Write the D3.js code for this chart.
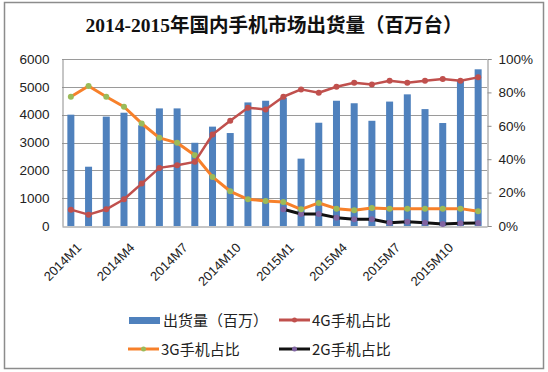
<!DOCTYPE html>
<html><head><meta charset="utf-8">
<script src="https://cdn.jsdelivr.net/npm/d3@7"></script>
<style>body{margin:0;background:#fff}svg{display:block}</style>
</head><body><svg id="c" width="548" height="372"></svg>
<script>
const months = ["2014M1","2014M2","2014M3","2014M4","2014M5","2014M6","2014M7","2014M8","2014M9","2014M10","2014M11","2014M12",
"2015M1","2015M2","2015M3","2015M4","2015M5","2015M6","2015M7","2015M8","2015M9","2015M10","2015M11","2015M12"];
const shipments = [4000,2130,3930,4070,3620,4225,4225,2990,3570,3340,4440,4500,4610,2420,3710,4500,4410,3780,4470,4730,4200,3700,5240,5630];
const share4G = [9.8,6.8,10,16,25.4,34.8,36.4,38.4,54.8,63,70.8,69.8,77.4,81.8,79.8,83.4,85.8,84.8,87,85.8,87,88,87,89];
const share3G = [77.4,83.8,77.4,71.4,61.4,52.8,49.8,42.4,29.4,20.8,16,15,14.4,10,13.8,10.4,9.4,10.8,10.4,10.4,10.4,10.4,10.4,8.8];
const share2G = [null,null,null,null,null,null,null,null,null,null,null,null,10,7.2,7.2,5,4,4,2,2.6,2,1.2,1.6,1.8];
const leftTicks = [0,1000,2000,3000,4000,5000,6000];
const rightTicks = [0,20,40,60,80,100];
const xLabelMonths = ["2014M1","2014M4","2014M7","2014M10","2015M1","2015M4","2015M7","2015M10"];

const svg = d3.select("#c");
const L = 62, R = 487, T = 59, B = 226;
const font = "'Liberation Sans','DejaVu Sans',sans-serif";
const cjk = "'Noto Sans CJK SC','Liberation Sans',sans-serif";

svg.append("rect").attr("x",4.5).attr("y",2.5).attr("width",539).attr("height",366)
  .attr("fill","#fff").attr("stroke","#8c8c8c").attr("stroke-width",1.5);

svg.append("text").attr("x",274).attr("y",32).attr("text-anchor","middle")
  .attr("font-family","'Liberation Serif','Noto Sans CJK SC',serif").attr("font-weight","bold")
  .attr("font-size",19.5).attr("fill","#111").text("2014-2015年国内手机市场出货量（百万台）");

const xc = d3.scalePoint().domain(months).range([L,R]).padding(0.5);
const y = d3.scaleLinear().domain([0,6000]).range([B,T]);
const y2 = d3.scaleLinear().domain([0,100]).range([B,T]);

// gridlines
svg.append("g").selectAll("line").data(leftTicks.filter(d=>d>0)).join("line")
  .attr("x1",L).attr("x2",R).attr("y1",d=>Math.round(y(d))+0.5).attr("y2",d=>Math.round(y(d))+0.5)
  .attr("stroke","#9a9a9a").attr("stroke-width",1);

// left axis
const ga = svg.append("g").attr("transform",`translate(${L+0.5},0)`)
  .call(d3.axisLeft(y).tickValues(leftTicks).tickFormat(d3.format("d")).tickSize(0).tickPadding(13));
ga.select(".domain").attr("stroke","#8c8c8c");
ga.selectAll("text").attr("font-family",font).attr("font-size",13.5).attr("fill","#222");

// right axis
const gr = svg.append("g").attr("transform",`translate(${R+0.5},0)`)
  .call(d3.axisRight(y2).tickValues(rightTicks).tickFormat(d=>d+"%").tickSize(4).tickPadding(7));
gr.select(".domain").attr("stroke","#8c8c8c");
gr.selectAll("line").attr("stroke","#8c8c8c");
gr.selectAll("text").attr("font-family",font).attr("font-size",13.5).attr("fill","#222");

// bars
svg.append("g").selectAll("rect").data(shipments).join("rect")
  .attr("x",(d,i)=>xc(months[i])-3.5).attr("width",7)
  .attr("y",d=>y(d)).attr("height",d=>B-y(d)).attr("fill","#4f81bd");

// bottom axis
const gb = svg.append("g").attr("transform",`translate(0,${B+0.5})`)
  .call(d3.axisBottom(xc).tickValues(xLabelMonths).tickSize(0).tickPadding(0));
gb.select(".domain").attr("stroke","#8c8c8c");
gb.selectAll("text").attr("font-family",font).attr("font-size",13).attr("fill","#222")
  .attr("text-anchor","end").attr("dy",0)
  .attr("transform","translate(11,22) rotate(-45)");

function series(data, lineColor, markColor, w){
  const pts = data.map((v,i)=>({v,m:months[i]})).filter(p=>p.v!==null);
  svg.append("path").datum(pts)
    .attr("d",d3.line().x(p=>xc(p.m)).y(p=>y2(p.v)))
    .attr("fill","none").attr("stroke",lineColor).attr("stroke-width",w).attr("stroke-linejoin","round");
  svg.append("g").selectAll("circle").data(pts).join("circle")
    .attr("cx",p=>xc(p.m)).attr("cy",p=>y2(p.v)).attr("r",3).attr("fill",markColor);
}
series(share2G,"#111","#8064a2",3);
series(share3G,"#f7802a","#9bbb59",3);
series(share4G,"#c0504d","#c0504d",2.5);

// legend
const lg = svg.append("g").attr("font-family",cjk).attr("font-size",15).attr("fill","#222");
lg.append("rect").attr("x",129).attr("y",317).attr("width",31).attr("height",7).attr("fill","#4f81bd");
lg.append("text").attr("x",163).attr("y",326).text("出货量（百万）");
function legLine(x0,yy,c,mc,label){
  lg.append("line").attr("x1",x0).attr("x2",x0+31).attr("y1",yy).attr("y2",yy).attr("stroke",c).attr("stroke-width",3);
  lg.append("circle").attr("cx",x0+15.5).attr("cy",yy).attr("r",2.5).attr("fill",mc);
  lg.append("text").attr("x",x0+33).attr("y",yy+5.5).text(label);
}
legLine(279,320,"#c0504d","#c0504d","4G手机占比");
legLine(128,349,"#f7802a","#9bbb59","3G手机占比");
legLine(279,349,"#111","#8064a2","2G手机占比");
</script></body></html>
